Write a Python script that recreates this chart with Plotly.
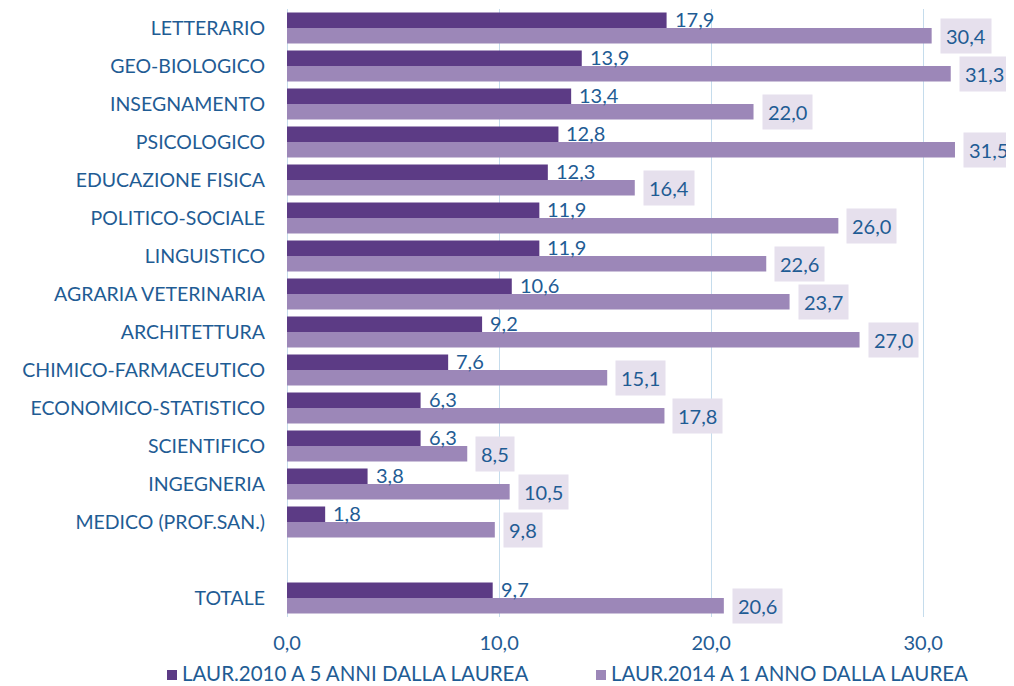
import plotly.graph_objects as go

categories = ["LETTERARIO", "GEO-BIOLOGICO", "INSEGNAMENTO", "PSICOLOGICO", "EDUCAZIONE FISICA",
              "POLITICO-SOCIALE", "LINGUISTICO", "AGRARIA VETERINARIA", "ARCHITETTURA",
              "CHIMICO-FARMACEUTICO", "ECONOMICO-STATISTICO", "SCIENTIFICO", "INGEGNERIA",
              "MEDICO (PROF.SAN.)", "TOTALE"]
laur2010 = [17.9, 13.9, 13.4, 12.8, 12.3, 11.9, 11.9, 10.6, 9.2, 7.6, 6.3, 6.3, 3.8, 1.8, 9.7]
laur2014 = [30.4, 31.3, 22.0, 31.5, 16.4, 26.0, 22.6, 23.7, 27.0, 15.1, 17.8, 8.5, 10.5, 9.8, 20.6]
series_names = ["LAUR.2010 A 5 ANNI DALLA LAUREA", "LAUR.2014 A 1 ANNO DALLA LAUREA"]
tick_vals = [0, 10, 20, 30]
tick_text = ["0,0", "10,0", "20,0", "30,0"]

# slot positions: one empty slot before TOTALE
pos = list(range(len(categories) - 1)) + [len(categories)]

dark = "#5C3B85"
light = "#9C87B8"
txt = "#1F5C94"
font_fam = "Lato, 'Open Sans', sans-serif"

def fmt(v):
    return f"{v:.1f}".replace(".", ",")

fig = go.Figure()
fig.add_trace(go.Bar(y=pos, x=laur2010, orientation="h", name=series_names[0],
                     marker=dict(color=dark, line=dict(width=0)), showlegend=False))
fig.add_trace(go.Bar(y=pos, x=laur2014, orientation="h", name=series_names[1],
                     marker=dict(color=light, line=dict(width=0)), showlegend=False))

bargap = 0.18
off = (1 - bargap) / 4
anns = []
for p, a, b in zip(pos, laur2010, laur2014):
    anns.append(dict(x=a, y=p - off, text=fmt(a), showarrow=False, xanchor="left",
                     xshift=6, yshift=1, font=dict(color=txt, size=20, family=font_fam)))
    anns.append(dict(x=b, y=p + off, text=fmt(b), showarrow=False, xanchor="left",
                     xshift=8, bgcolor="#E6E0ED", borderpad=5,
                     font=dict(color=txt, size=20, family=font_fam)))

FW, FH = 1006, 678   # page body has an 8px margin
L, R, T, B = 279, 6, 1, 69
W = FW - L - R
H = FH - T - B

def px_x(fx):
    return (fx - L) / W

def px_y(fy):
    return (FH - B - fy) / H

# manual legend (squares + real text)
shapes = []
for sx, tx, col, name in [(159, 172, dark, series_names[0]), (588, 601, light, series_names[1])]:
    shapes.append(dict(type="rect", xref="paper", yref="paper",
                       x0=px_x(sx), x1=px_x(sx + 10), y0=px_y(672), y1=px_y(662),
                       fillcolor=col, line=dict(width=0)))
    anns.append(dict(xref="paper", yref="paper", x=px_x(tx), y=px_y(665), text=name,
                     showarrow=False, xanchor="left", yanchor="middle",
                     font=dict(color=txt, size=20.5, family=font_fam)))

fig.update_layout(
    width=FW, height=FH,
    barmode="group", bargap=bargap, bargroupgap=0,
    plot_bgcolor="white", paper_bgcolor="white",
    margin=dict(l=L, r=R, t=T, b=B, autoexpand=False),
    font=dict(family=font_fam, color=txt, size=19),
    annotations=anns,
    shapes=shapes,
    showlegend=False,
    xaxis=dict(range=[0, 34], tickvals=tick_vals, ticktext=tick_text,
               showgrid=True, gridcolor="#C5DCEC", gridwidth=1,
               zeroline=True, zerolinecolor="#C5DCEC", zerolinewidth=1,
               showline=False, tickfont=dict(size=20, color=txt), ticks="",
               ticklabelstandoff=12, automargin=False),
    yaxis=dict(range=[len(categories) + 0.5, -0.5], tickvals=pos, ticktext=categories,
               showgrid=False, zeroline=False, showline=False, ticks="",
               tickfont=dict(size=19.5, color=txt), ticklabelstandoff=21, automargin=False),
)

fig.write_html("out.html")
